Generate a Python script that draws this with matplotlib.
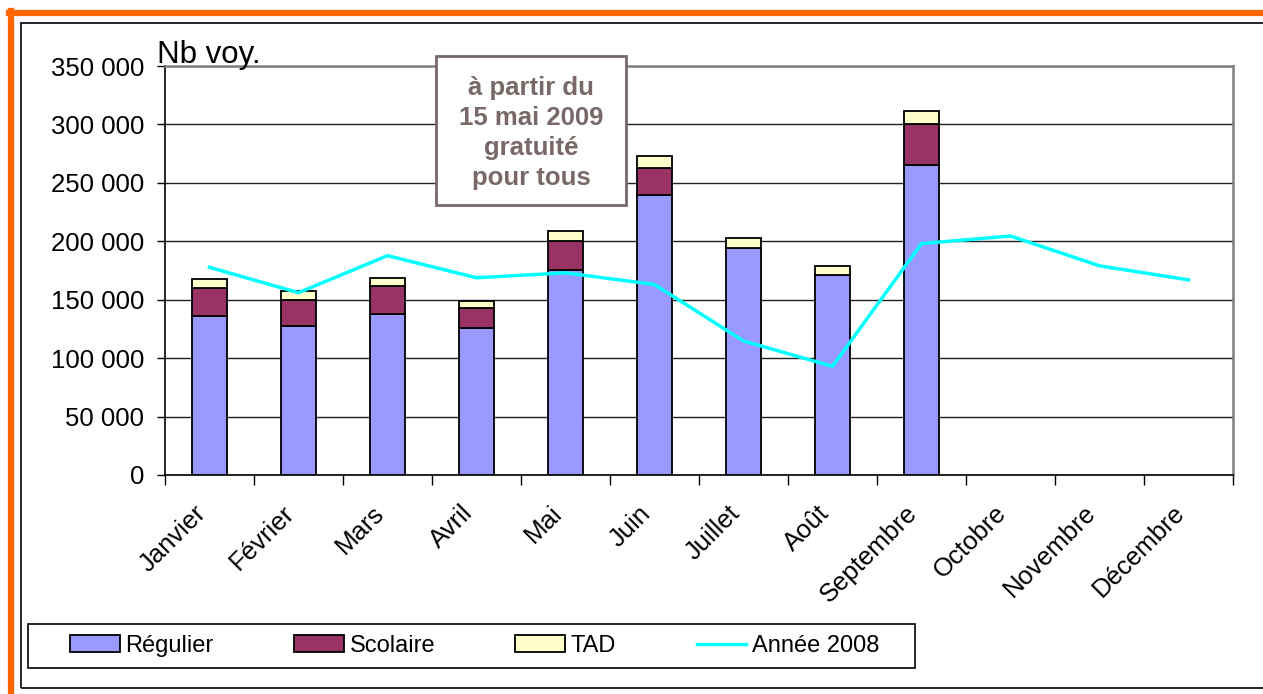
import matplotlib
matplotlib.use("Agg")
import matplotlib.pyplot as plt
from matplotlib.patches import Rectangle
from matplotlib.lines import Line2D
from matplotlib.ticker import FuncFormatter, FixedLocator
from matplotlib.transforms import ScaledTranslation
import numpy as np

plt.rcParams['font.family'] = ['Liberation Sans', 'DejaVu Sans']

mois = ['Janvier', 'Février', 'Mars', 'Avril', 'Mai', 'Juin', 'Juillet', 'Août',
        'Septembre', 'Octobre', 'Novembre', 'Décembre']
regulier = [136000, 127500, 137500, 125800, 175400, 240000, 194500, 171400, 265500]
scolaire = [24000, 22500, 24200, 16800, 24800, 23000, 0, 0, 34500]
tad = [7500, 7500, 7100, 6300, 8800, 10000, 8500, 7600, 11500]
annee_2008 = [177700, 156000, 187700, 168800, 173000, 163000, 114700, 93000,
              198000, 204500, 179000, 167000]

W, H = 1263, 694


def fx(px):
    return px / W


def fy(py):
    return 1 - py / H


fig = plt.figure(figsize=(W / 100, H / 100), dpi=100)
fig.patch.set_facecolor('white')

# outer frames (orange + black), like the original report screenshot
fig.add_artist(Line2D([fx(11), fx(11)], [fy(11), fy(700)], color='#ff6600', lw=4.5))
fig.add_artist(Line2D([fx(9), fx(1270)], [fy(13), fy(13)], color='#ff6600', lw=4.5))
fig.add_artist(Rectangle((fx(21), fy(688)), fx(1300) - fx(21), fy(23) - fy(688),
                         transform=fig.transFigure, fill=False, ec='black', lw=1.2))

ax = fig.add_axes([fx(165), fy(475), fx(1233) - fx(165), fy(66) - fy(475)])

x = np.arange(len(regulier))
bottom2 = np.array(regulier) + np.array(scolaire)
w = 0.4
ax.bar(x, regulier, w, color='#9999ff', edgecolor='black', lw=1.3, zorder=3)
ax.bar(x, scolaire, w, bottom=regulier, color='#993366', edgecolor='black', lw=1.3, zorder=3)
ax.bar(x, tad, w, bottom=bottom2, color='#ffffcc', edgecolor='black', lw=1.3, zorder=3)
ax.plot(np.arange(len(mois)), annee_2008, color='#00ffff', lw=2.5, zorder=4)

ax.set_xlim(-0.5, len(mois) - 0.5)
ax.set_ylim(0, 350000)
ax.yaxis.set_major_locator(FixedLocator(np.arange(0, 350001, 50000)))
ax.yaxis.set_major_formatter(FuncFormatter(lambda v, p: f"{int(v):,}".replace(",", " ")))
ax.grid(axis='y', color='#222222', lw=1.0, zorder=0)
ax.tick_params(axis='y', length=6, width=1, pad=9, labelsize=18.5, direction='out')

# ticks between categories, labels at centres
ax.set_xticks(np.arange(-0.5, len(mois), 1))
ax.set_xticklabels([])
ax.set_xticks(np.arange(len(mois)), minor=True)
ax.set_xticklabels(mois, minor=True, rotation=45, ha='right', va='top',
                   rotation_mode='anchor', fontsize=18.5)
ax.tick_params(axis='x', which='major', length=7, width=1, direction='out')
ax.tick_params(axis='x', which='minor', length=0, pad=10)
shift = ScaledTranslation(-16 / 100, -12 / 100, fig.dpi_scale_trans)
for lab in ax.get_xticklabels(minor=True):
    lab.set_transform(lab.get_transform() + shift)

for s in ['top', 'right']:
    ax.spines[s].set_color('#808080')
    ax.spines[s].set_linewidth(1.8)
ax.spines['left'].set_linewidth(1.2)
ax.spines['bottom'].set_linewidth(1.2)

fig.text(fx(157), fy(63), 'Nb voy.', fontsize=22.5, ha='left', va='baseline')

# annotation box
fig.add_artist(Rectangle((fx(436), fy(205)), fx(626) - fx(436), fy(56) - fy(205),
                         transform=fig.transFigure, fc='white', ec='#786868', lw=2, zorder=5))
fig.text(fx(531), fy(133), 'à partir du\n15 mai 2009\ngratuité\npour tous',
         fontsize=18.5, fontweight='bold', color='#786868', ha='center', va='center',
         linespacing=1.33, zorder=6)

# legend
fig.add_artist(Rectangle((fx(28), fy(668)), fx(915) - fx(28), fy(624) - fy(668),
                         transform=fig.transFigure, fill=False, ec='black', lw=1.2))
handles = [
    Rectangle((0, 0), 1, 1, fc='#9999ff', ec='black', lw=1.3),
    Rectangle((0, 0), 1, 1, fc='#993366', ec='black', lw=1.3),
    Rectangle((0, 0), 1, 1, fc='#ffffcc', ec='black', lw=1.3),
    Line2D([], [], color='#00ffff', lw=2.5),
]
fig.legend(handles, ['Régulier', 'Scolaire', 'TAD', 'Année 2008'], ncol=4,
           loc='center left', bbox_to_anchor=(fx(63), fy(646)), frameon=False,
           fontsize=17, handlelength=2.1, handletextpad=0.25, columnspacing=3.4,
           borderpad=0.3, borderaxespad=0)

fig.savefig('out.png', dpi=100)
